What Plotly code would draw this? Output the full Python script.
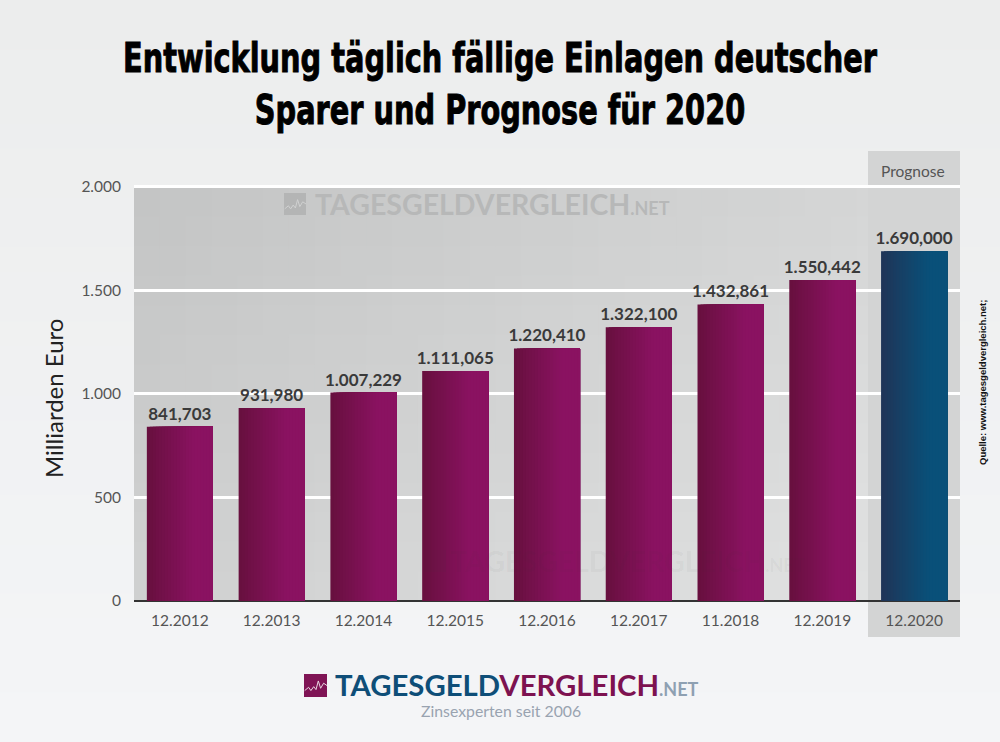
import plotly.graph_objects as go

W, H = 1000, 742

# data
categories = ["12.2012", "12.2013", "12.2014", "12.2015", "12.2016",
              "12.2017", "11.2018", "12.2019", "12.2020"]
values = [841.703, 931.980, 1007.229, 1111.065, 1220.410,
          1322.100, 1432.861, 1550.442, 1690.000]
value_labels = ["841,703", "931,980", "1.007,229", "1.111,065", "1.220,410",
                "1.322,100", "1.432,861", "1.550,442", "1.690,000"]
y_ticks = [0, 500, 1000, 1500, 2000]
y_tick_labels = ["0", "500", "1.000", "1.500", "2.000"]

BODY_FONT = "Lato"
DARK = "#3a3a3a"
GREY = "#555555"


def px(x):
    return x / W


def py(y):
    return 1 - y / H


def mix(a, b, t):
    t = max(0, min(1, t))
    c = [round(a[i] + (b[i] - a[i]) * t) for i in range(3)]
    return "rgb(%d,%d,%d)" % tuple(c)


fig = go.Figure()
bar_width = 0.72

# base bars carry the labels
plum_left, plum_right = (104, 16, 63), (138, 18, 97)
blue_left, blue_right = (31, 53, 88), (9, 80, 121)
n_strips = 22
fig.add_trace(go.Bar(x=categories, y=values, width=bar_width,
                     marker_color=["rgb(104,16,63)"] * 8 + ["rgb(31,53,88)"],
                     marker_line_width=0,
                     text=value_labels, textposition="outside",
                     textangle=0, cliponaxis=False, constraintext="none",
                     textfont=dict(family=BODY_FONT, size=17, color=DARK, weight=700),
                     hoverinfo="skip", showlegend=False))
# nested narrower bars give the left-to-right gradient
for k in range(1, n_strips):
    step = bar_width / n_strips
    t = k / (n_strips * 0.7)
    colors = [mix(plum_left, plum_right, t)] * 8 + [mix(blue_left, blue_right, t)]
    fig.add_trace(go.Bar(x=categories, y=values,
                         width=bar_width - k * step,
                         offset=-bar_width / 2 + k * step,
                         marker_color=colors, marker_line_width=0,
                         hoverinfo="skip", showlegend=False))

shapes = []
# page background
rows = 30
for r in range(rows):
    t = r / (rows - 1)
    shapes.append(dict(type="rect", xref="paper", yref="paper", layer="below",
                       x0=0, x1=1, y0=1 - r / rows, y1=max(0, 1 - (r + 1.5) / rows),
                       fillcolor=mix((236, 237, 237), (244, 245, 247), t),
                       line_width=0))
# grey plot band, darker towards top left
L, R, T, B = 134, 960, 187, 601
cols, rows = 32, 14
for c in range(cols):
    for r in range(rows):
        t = (c / (cols - 1)) * 0.62 + (r / (rows - 1)) * 0.38
        # cells overlap the next ones so no seams show
        shapes.append(dict(type="rect", xref="paper", yref="paper", layer="below",
                           x0=px(L + (R - L) * c / cols),
                           x1=px(min(R, L + (R - L) * (c + 1) / cols + 3)),
                           y0=py(T + (B - T) * r / rows),
                           y1=py(min(B, T + (B - T) * (r + 1) / rows + 3)),
                           fillcolor=mix((196, 197, 197), (226, 227, 227), t),
                           line_width=0))
# forecast column
shapes.append(dict(type="rect", xref="paper", yref="paper", layer="below",
                   x0=px(868), x1=px(960), y0=py(151), y1=py(637),
                   fillcolor="#d3d4d4", line_width=0))
# logo icons
for x0, y0, size, fill, spark in [(284, 193, 22, "#b4b5b5", "#d0d1d1"),
                                  (424, 550, 22, "rgba(50,50,50,0.05)", "rgba(0,0,0,0)"),
                                  (304, 674, 23, "#7f1455", "#e8d8e2")]:
    shapes.append(dict(type="rect", xref="paper", yref="paper", layer="above",
                       x0=px(x0), x1=px(x0 + size), y0=py(y0), y1=py(y0 + size),
                       fillcolor=fill, line_width=0))
    pts = [(0.03, 0.72), (0.2, 0.58), (0.3, 0.72), (0.42, 0.55), (0.52, 0.68),
           (0.62, 0.3), (0.72, 0.62), (0.85, 0.4), (1.0, 0.5)]
    path = "M" + " L".join("%.4f,%.4f" % (px(x0 + a * size), py(y0 + b * size)) for a, b in pts)
    shapes.append(dict(type="path", xref="paper", yref="paper", layer="above",
                       path=path, line=dict(color=spark, width=1)))

annotations = [
    dict(text="Prognose", x=px(913), y=py(171),
         font=dict(family=BODY_FONT, size=15.5, color=GREY)),
    dict(text="Milliarden Euro", x=px(53), y=py(399), textangle=-90,
         font=dict(family=BODY_FONT, size=24, color="#222222")),
    dict(text="Quelle: www.tagesgeldvergleich.net;", x=px(983), y=py(383), textangle=-90,
         font=dict(family="Liberation Sans", size=9.5, color="#111111", weight=700)),
    # watermark on top
    dict(text="TAGESGELDVERGLEICH<span style='font-size:18px'>.NET</span>",
         x=px(313), y=py(204), xanchor="left",
         font=dict(family=BODY_FONT, size=28.5, color="#b7b8b8", weight=700)),
    # watermark over the bars
    dict(text="TAGESGELDVERGLEICH<span style='font-size:18px'>.NET</span>",
         x=px(448), y=py(561), xanchor="left",
         font=dict(family=BODY_FONT, size=28.5, color="rgba(50,50,50,0.05)", weight=700)),
    # bottom logo
    dict(text="<span style='color:#0e4e78'>TAGESGELD</span>"
              "<span style='color:#7d1250'>VERGLEICH</span>"
              "<span style='color:#8ea0b2;font-size:18px'>.NET</span>",
         x=px(333), y=py(684), xanchor="left",
         font=dict(family=BODY_FONT, size=29.3, weight=700)),
    dict(text="Zinsexperten seit 2006", x=px(501), y=py(710),
         font=dict(family=BODY_FONT, size=15.8, color="#99a3b0")),
]
for a in annotations:
    a.update(xref="paper", yref="paper", showarrow=False)
    a.setdefault("xanchor", "center")
    a["yanchor"] = "middle"

# axis runs a touch past 2000 so plotly keeps the gridline at the top
y_top = 2006
axis_top = B - (B - T) * y_top / 2000

fig.update_layout(
    width=W, height=H,
    margin=dict(l=0, r=0, t=0, b=0),
    barmode="overlay",
    paper_bgcolor="#f0f1f2",
    plot_bgcolor="rgba(0,0,0,0)",
    showlegend=False,
    title=dict(text="Entwicklung täglich fällige Einlagen deutscher<br>"
                    "Sparer und Prognose für 2020",
               x=0.5, xanchor="center", y=py(72), yanchor="middle",
               font=dict(family="DejaVu Sans", size=40, color="#000000", weight=700)),
    shapes=shapes,
    annotations=annotations,
    xaxis=dict(domain=[px(L), px(R)], type="category", categoryorder="array",
               categoryarray=categories, showgrid=False, ticks="",
               automargin=False,
               tickfont=dict(family=BODY_FONT, size=15.5, color=GREY),
               ticklabelstandoff=8,
               showline=False, zeroline=False, anchor="y"),
    yaxis=dict(domain=[py(B), py(axis_top)], range=[0, y_top], tickmode="array",
               tickvals=y_ticks, ticktext=y_tick_labels,
               automargin=False,
               gridcolor="#ffffff", gridwidth=3, ticks="", zeroline=True,
               zerolinecolor="#333333", zerolinewidth=2, showline=False,
               ticklabelstandoff=12,
               tickfont=dict(family=BODY_FONT, size=15.5, color=GREY)),
)

# no page margin, and the heavy title face is squeezed from a wide bold font
post = """
document.body.style.margin = '0';
var t = document.querySelector('.gtitle');
t.setAttribute('transform', 'translate(500,0) scale(0.72,1) translate(-500,0)');
t.style.stroke = '#000';
t.style.strokeWidth = '1px';
"""
fig.write_html("out.html", post_script=post, config={"displayModeBar": False})
